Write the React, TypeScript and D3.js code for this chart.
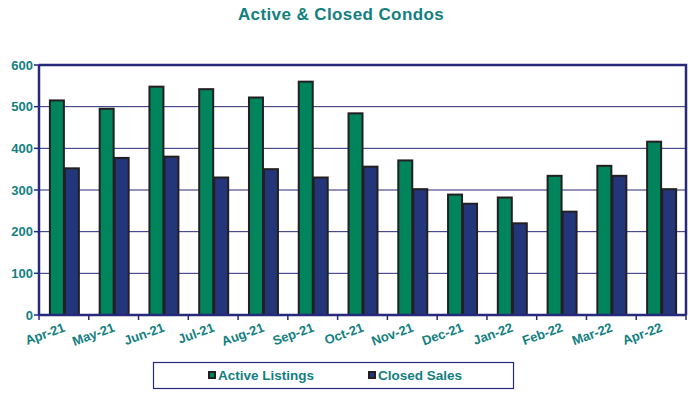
import React, { useEffect, useRef } from "react";
import * as d3 from "d3";

const months = ["Apr-21", "May-21", "Jun-21", "Jul-21", "Aug-21", "Sep-21", "Oct-21", "Nov-21", "Dec-21", "Jan-22", "Feb-22", "Mar-22", "Apr-22"];
const activeListings = [515, 495, 548, 542, 522, 560, 484, 371, 289, 282, 334, 358, 416];
const closedSales = [352, 377, 380, 330, 350, 330, 356, 302, 267, 220, 248, 334, 302];
const seriesNames = ["Active Listings", "Closed Sales"];
const yTicks = [0, 100, 200, 300, 400, 500, 600];

const TEAL = "#138080";
const NAVY = "#27297a";
const colors = ["#00845c", "#24367a"];

export default function App() {
  const ref = useRef<SVGSVGElement>(null);

  useEffect(() => {
    const svg = d3.select(ref.current);
    svg.selectAll("*").remove();

    const left = 39, right = 686, top = 65, bottom = 315;
    const font = "Arial, 'Liberation Sans', sans-serif";

    const x = d3.scaleBand().domain(months).range([left, right]).paddingInner(0).paddingOuter(0);
    const inner = d3.scaleBand().domain(seriesNames).range([0, x.bandwidth()]).paddingInner(0).paddingOuter(0.66);
    const y = d3.scaleLinear().domain([0, 600]).range([bottom, top]);

    // title
    svg.append("text").attr("x", 341).attr("y", 20).attr("text-anchor", "middle")
      .attr("font-family", font).attr("font-weight", "bold").attr("font-size", 17)
      .attr("letter-spacing", 0.4)
      .attr("fill", TEAL).text("Active & Closed Condos");

    // grid
    svg.append("g").selectAll("line").data(yTicks.filter((t) => t > 0 && t < 600)).join("line")
      .attr("x1", left).attr("x2", right).attr("y1", (d) => y(d)).attr("y2", (d) => y(d))
      .attr("stroke", NAVY).attr("stroke-width", 1);

    // frame top & right
    svg.append("path").attr("d", `M${left},${top}H${right}V${bottom}`)
      .attr("fill", "none").attr("stroke", NAVY).attr("stroke-width", 2.5);

    // bars
    const data = months.map((m, i) => ({ m, vals: [activeListings[i], closedSales[i]] }));
    const g = svg.append("g").selectAll("g").data(data).join("g")
      .attr("transform", (d) => `translate(${x(d.m)},0)`);
    g.selectAll("rect").data((d) => d.vals.map((v, k) => ({ v, k }))).join("rect")
      .attr("x", (d) => inner(seriesNames[d.k])! + 1)
      .attr("width", inner.bandwidth() - 1)
      .attr("y", (d) => y(d.v))
      .attr("height", (d) => bottom - y(d.v))
      .attr("fill", (d) => colors[d.k])
      .attr("stroke", "#231f20").attr("stroke-width", 2);

    // axes lines
    svg.append("line").attr("x1", left).attr("x2", right).attr("y1", bottom).attr("y2", bottom)
      .attr("stroke", NAVY).attr("stroke-width", 2.5);
    svg.append("line").attr("x1", left).attr("x2", left).attr("y1", top).attr("y2", bottom)
      .attr("stroke", NAVY).attr("stroke-width", 2.5);

    // y ticks and labels
    svg.append("g").selectAll("line").data(yTicks).join("line")
      .attr("x1", left - 5).attr("x2", left).attr("y1", (d) => y(d)).attr("y2", (d) => y(d))
      .attr("stroke", NAVY).attr("stroke-width", 1.5);
    svg.append("g").selectAll("text").data(yTicks).join("text")
      .attr("x", 33).attr("y", (d) => y(d)).attr("dy", "0.36em").attr("text-anchor", "end")
      .attr("font-family", font).attr("font-weight", "bold").attr("font-size", 13)
      .attr("fill", TEAL).text((d) => d);

    // x ticks
    const bounds = months.map((m) => x(m)!).concat([right]);
    svg.append("g").selectAll("line").data(bounds).join("line")
      .attr("x1", (d) => d).attr("x2", (d) => d).attr("y1", bottom).attr("y2", bottom + 5)
      .attr("stroke", NAVY).attr("stroke-width", 1.5);

    // x labels
    svg.append("g").selectAll("text").data(months).join("text")
      .attr("transform", (d) => `translate(${x(d)! + x.bandwidth() / 2 + 2},${bottom + 16}) rotate(-20)`)
      .attr("text-anchor", "end")
      .attr("font-family", font).attr("font-weight", "bold").attr("font-size", 13)
      .attr("fill", TEAL).text((d) => d);

    // legend
    const lg = svg.append("g");
    lg.append("rect").attr("x", 153.5).attr("y", 362.5).attr("width", 360).attr("height", 26)
      .attr("fill", "white").attr("stroke", NAVY).attr("stroke-width", 1.2);
    const items = [{ x: 208, i: 0 }, { x: 368, i: 1 }];
    items.forEach(({ x: lx, i }) => {
      lg.append("rect").attr("x", lx + 1).attr("y", 372).attr("width", 6).attr("height", 6)
        .attr("fill", colors[i]).attr("stroke", "#231f20").attr("stroke-width", 2);
      lg.append("text").attr("x", lx + 10).attr("y", 380)
        .attr("font-family", font).attr("font-weight", "bold").attr("font-size", 13.5)
        .attr("fill", TEAL).text(seriesNames[i]);
    });
  }, []);

  return (
    <svg ref={ref} width={692} height={393}
      style={{ position: "absolute", left: 0, top: 0, background: "white" }} />
  );
}
